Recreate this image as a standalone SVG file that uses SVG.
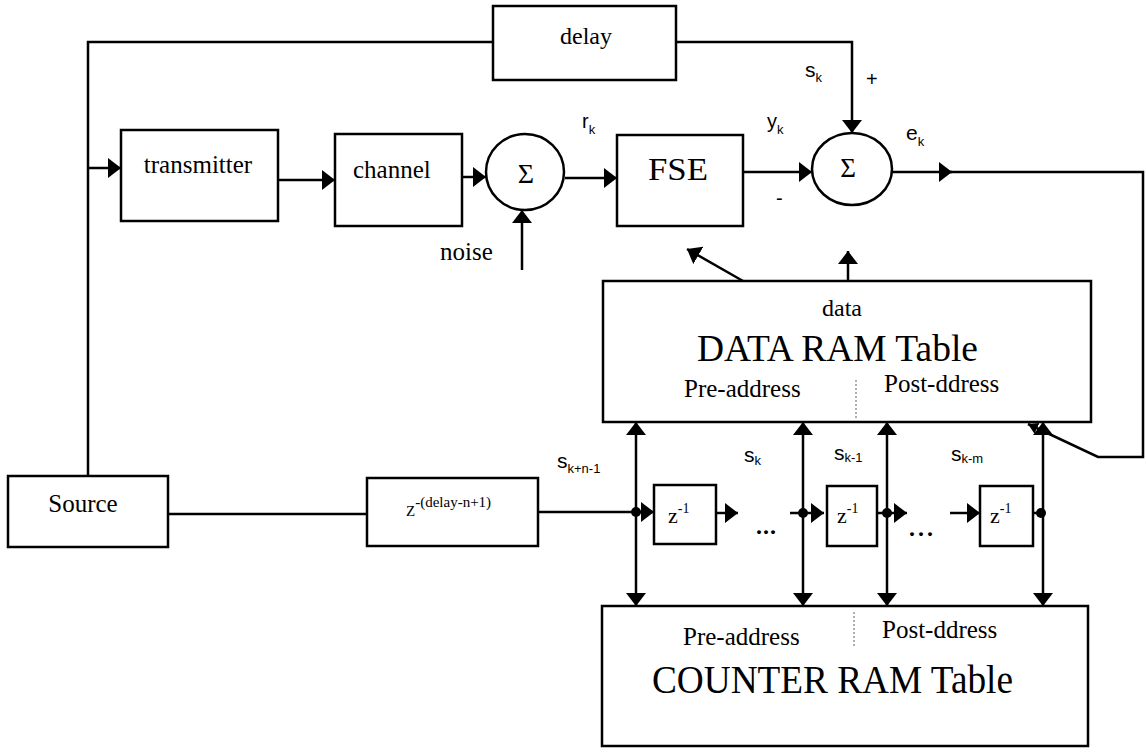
<svg xmlns="http://www.w3.org/2000/svg" width="1146" height="753" viewBox="0 0 1146 753">
<style>
.box{fill:#fff;stroke:#000;stroke-width:2.5}
.ln{fill:none;stroke:#000;stroke-width:2.5}
.t{font-family:"Liberation Serif","Times New Roman",serif;fill:#000}
.s{font-family:"Liberation Sans",Arial,sans-serif;fill:#000}
.div{stroke:#777;stroke-width:1.2;stroke-dasharray:2 2}
</style>
<defs>
<marker id="ah" viewBox="0 0 13 20" refX="13" refY="10" markerWidth="13" markerHeight="20" markerUnits="userSpaceOnUse" orient="auto-start-reverse"><path d="M0,0 L13,10 L0,20 z" fill="#000"/></marker>
<marker id="ahs" viewBox="0 0 10 12" refX="10" refY="6" markerWidth="10" markerHeight="12" markerUnits="userSpaceOnUse" orient="auto"><path d="M0,0 L10,6 L0,12 z" fill="#000"/></marker>
</defs>
<rect width="1146" height="753" fill="#fff"/>

<g id="connectors">
<path class="ln" d="M88,476 V42 H493"/>
<path class="ln" d="M88,168 H121" marker-end="url(#ah)"/>
<path class="ln" d="M676,42 H852 V133" marker-end="url(#ah)"/>
<path class="ln" d="M278,180 H335" marker-end="url(#ah)"/>
<path class="ln" d="M462,177 H486" marker-end="url(#ah)"/>
<path class="ln" d="M522,270 V210" marker-end="url(#ah)"/>
<path class="ln" d="M565,178 H617" marker-end="url(#ah)"/>
<path class="ln" d="M743,172 H812" marker-end="url(#ah)"/>
<path class="ln" d="M892,172 H952" marker-end="url(#ah)"/>
<path class="ln" d="M950,172 H1143 V457 H1098 L1028,424" marker-end="url(#ahs)"/>
<path class="ln" d="M743,281 L687,249" marker-end="url(#ah)"/>
<path class="ln" d="M848,281 V251" marker-end="url(#ah)"/>
<path class="ln" d="M168,514 H367"/>
<path class="ln" d="M538,512 H636"/>
<path class="ln" d="M636,512 H654" marker-end="url(#ah)"/>
<path class="ln" d="M716,513 H738" marker-end="url(#ah)"/>
<path class="ln" d="M790,513 H824" marker-end="url(#ah)"/>
<path class="ln" d="M877,513 H907" marker-end="url(#ah)"/>
<path class="ln" d="M950,513 H980" marker-end="url(#ah)"/>
<path class="ln" d="M1033,513 H1043"/>
<path class="ln" d="M636,422 V606" marker-start="url(#ah)" marker-end="url(#ah)"/>
<path class="ln" d="M803,422 V606" marker-start="url(#ah)" marker-end="url(#ah)"/>
<path class="ln" d="M887,422 V606" marker-start="url(#ah)" marker-end="url(#ah)"/>
<path class="ln" d="M1043,422 V606" marker-start="url(#ah)" marker-end="url(#ah)"/>
<circle cx="636" cy="512" r="5"/>
<circle cx="803" cy="513" r="5"/>
<circle cx="887" cy="513" r="5"/>
<circle cx="1041" cy="513" r="5"/>
</g>

<g id="delay">
<rect class="box" x="493" y="6" width="183" height="74"/>
<text class="t" x="586" y="44" font-size="24" text-anchor="middle">delay</text>
</g>
<g id="transmitter">
<rect class="box" x="121" y="130" width="157" height="91"/>
<text class="t" x="198" y="173" font-size="25" text-anchor="middle">transmitter</text>
</g>
<g id="channel">
<rect class="box" x="335" y="134" width="127" height="92"/>
<text class="t" x="353" y="178" font-size="25">channel</text>
</g>
<g id="sum1">
<ellipse class="box" cx="525" cy="172" rx="39" ry="38"/>
<text class="t" x="526" y="183" font-size="28" text-anchor="middle">Σ</text>
</g>
<g id="noise">
<text class="t" x="440" y="260" font-size="25">noise</text>
</g>
<g id="fse">
<rect class="box" x="617" y="135" width="126" height="91"/>
<text class="t" x="648" y="180" font-size="31" textLength="60" lengthAdjust="spacingAndGlyphs">FSE</text>
</g>
<g id="sum2">
<ellipse class="box" cx="852" cy="169" rx="40" ry="36"/>
<text class="t" x="848" y="177" font-size="27" text-anchor="middle">Σ</text>
</g>
<g id="labels">
<text class="s" x="582" y="128" font-size="20">r<tspan font-size="13" dy="6">k</tspan></text>
<text class="s" x="767" y="128" font-size="20">y<tspan font-size="13" dy="6">k</tspan></text>
<text class="s" x="805" y="77" font-size="21">s<tspan font-size="13" dy="5">k</tspan></text>
<text class="s" x="866" y="86" font-size="20">+</text>
<text class="s" x="776" y="205" font-size="20">-</text>
<text class="s" x="906" y="140" font-size="21">e<tspan font-size="13" dy="6">k</tspan></text>
<text class="s" x="557" y="468" font-size="21">s<tspan font-size="13" dy="5">k+n-1</tspan></text>
<text class="s" x="744" y="462" font-size="21">s<tspan font-size="13" dy="3">k</tspan></text>
<text class="s" x="834" y="460" font-size="21">s<tspan font-size="13" dy="2">k-1</tspan></text>
<text class="s" x="951" y="461" font-size="21">s<tspan font-size="13" dy="2">k-m</tspan></text>
<text class="t" x="756" y="534" font-size="24" font-weight="bold" letter-spacing="1">...</text>
<text class="t" x="909" y="536" font-size="24" font-weight="bold" letter-spacing="3">...</text>
</g>
<g id="source">
<rect class="box" x="8" y="476" width="160" height="71"/>
<text class="t" x="83" y="512" font-size="25" text-anchor="middle">Source</text>
</g>
<g id="zdelay">
<rect class="box" x="367" y="478" width="171" height="68"/>
<text class="t" x="406" y="516" font-size="15">Z<tspan font-size="15" dy="-9">-(delay-n+1)</tspan></text>
</g>
<g id="z1">
<rect class="box" x="654" y="485" width="62" height="59"/>
<text class="t" x="668" y="523" font-size="22">z<tspan font-size="14" dy="-10">-1</tspan></text>
</g>
<g id="z2">
<rect class="box" x="827" y="486" width="50" height="60"/>
<text class="t" x="837" y="523" font-size="22">z<tspan font-size="14" dy="-10">-1</tspan></text>
</g>
<g id="z3">
<rect class="box" x="980" y="486" width="53" height="60"/>
<text class="t" x="990" y="523" font-size="22">z<tspan font-size="14" dy="-10">-1</tspan></text>
</g>
<g id="dataram">
<rect class="box" x="603" y="281" width="488" height="141"/>
<text class="t" x="842" y="316" font-size="24" text-anchor="middle">data</text>
<text class="t" x="697" y="361" font-size="38" textLength="281" lengthAdjust="spacingAndGlyphs">DATA RAM Table</text>
<text class="t" x="684" y="397" font-size="25">Pre-address</text>
<text class="t" x="884" y="392" font-size="25">Post-ddress</text>
<line class="div" x1="856" y1="380" x2="856" y2="420"/>
</g>
<g id="counterram">
<rect class="box" x="602" y="606" width="486" height="140"/>
<text class="t" x="683" y="645" font-size="25">Pre-address</text>
<text class="t" x="882" y="638" font-size="25">Post-ddress</text>
<text class="t" x="652" y="693" font-size="40" textLength="361" lengthAdjust="spacingAndGlyphs">COUNTER RAM Table</text>
<line class="div" x1="854" y1="612" x2="854" y2="646"/>
</g>
</svg>
